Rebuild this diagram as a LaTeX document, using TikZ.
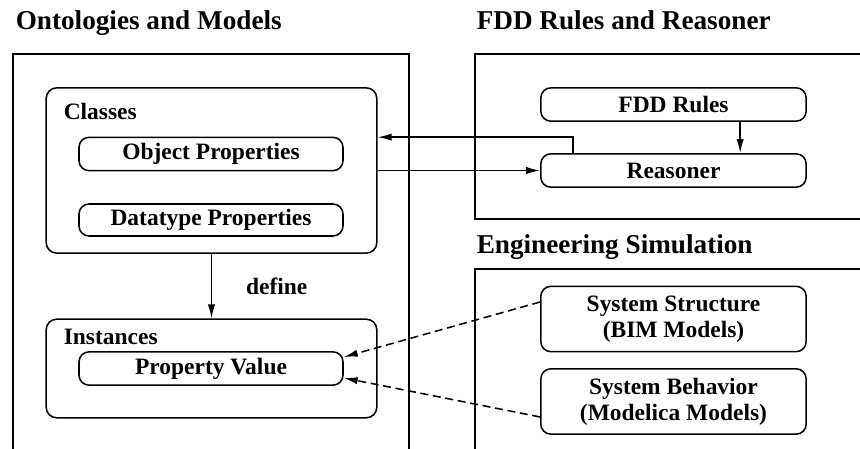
\documentclass[tikz,border=0pt]{standalone}
\usepackage{fontspec}
\setmainfont{Liberation Serif}
\usetikzlibrary{arrows.meta}
\usetikzlibrary{shapes}

\begin{document}
\begin{tikzpicture}[x = 0.75pt, y = -0.75pt, line width = 1.15pt,
  font=\bfseries\fontsize{17.6}{19.5}\selectfont,
  >={Latex[length=10.5pt, width=5.5pt]}]
\tikzstyle{titleStyle} = [anchor = base west, inner sep = 0pt, font = \bfseries\fontsize{20.4}{24}\selectfont]
\tikzstyle{headStyle} = [anchor = base west, inner sep = 0pt]
\tikzstyle{groupStyle} = [draw, rounded corners = 8pt, minimum width = 248pt, inner sep = 0pt]
\tikzstyle{pillStyle} = [draw, rounded corners = 7.5pt, minimum width = 198pt, minimum height = 25pt, inner sep = 0pt]
\tikzstyle{modelStyle} = [draw, rounded corners = 7.5pt, minimum width = 199pt, minimum height = 49pt, inner sep = 0pt, align = center]
\useasboundingbox (0,0) rectangle (860,449);
% frames
\draw (13,449) -- (13,54) -- (409,54) -- (409,449);
\draw (860,54) -- (475,54) -- (475,219) -- (860,219);
\draw (860,269) -- (475,269) -- (475,449);
\node[titleStyle] (tOnto) at (15,30) {Ontologies and Models};
\node[titleStyle] (tRule) at (476,30) {FDD Rules and Reasoner};
\node[titleStyle] (tSim) at (476,253) {Engineering Simulation};
% ontology side
\node[groupStyle, minimum height = 124pt] (classes) at (211.5,170.5) {};
\node[headStyle] (hClasses) at (63,120) {Classes};
\node[pillStyle] (objProp) at (211,154) {Object Properties};
\node[pillStyle, minimum height = 24pt] (dataProp) at (211,220) {Datatype Properties};
\node[groupStyle, minimum height = 74pt] (instances) at (211.5,368.5) {};
\node[headStyle] (hInstances) at (63,344) {Instances};
\node[pillStyle] (propValue) at (211,368.5) {Property Value};
% rules side
\node[pillStyle, minimum width = 199pt] (rules) at (673.5,104.5) {FDD Rules};
\node[pillStyle, minimum width = 199pt] (reasoner) at (673.5,170.5) {Reasoner};
% simulation side
\node[modelStyle] (structure) at (673.5,319) {System Structure\\ (BIM Models)};
\node[modelStyle] (behavior) at (673.5,401.5) {System Behavior\\(Modelica Models)};
% connectors
\draw[->] (classes.south) -- node[right = 22pt] {define} (instances.north);
\draw[->] ([xshift = 50pt]rules.south) -- ([xshift = 50pt]reasoner.north);
\draw[->] ([xshift = 24.75pt]reasoner.north west) |- ([yshift = 25pt]classes.east);
\draw[->] (classes.east) -- (reasoner.west);
\draw[->, dash pattern = on 6pt off 3.5pt] ([yshift = 12.75pt]structure.west) -- ([yshift = 8.6pt]propValue.east);
\draw[->, dash pattern = on 6pt off 3.5pt] ([yshift = -11.6pt]behavior.west) -- ([yshift = -7.1pt]propValue.east);
\end{tikzpicture}
\end{document}
